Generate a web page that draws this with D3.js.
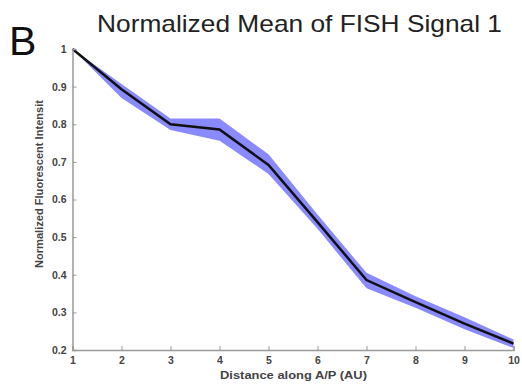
<!DOCTYPE html>
<html>
<head>
<meta charset="utf-8">
<script src="https://cdn.jsdelivr.net/npm/d3@7"></script>
<style>
body { margin: 0; background: #fff; }
svg { font-family: "Liberation Sans", Arial, sans-serif; }
.tick text { font-weight: bold; fill: #444; font-size: 10.5px; }
</style>
</head>
<body>
<svg id="chart" width="522" height="389"></svg>
<script>
// values
var positions = [1, 2, 3, 4, 5, 6, 7, 8, 9, 10];
var meanVals  = [1.0, 0.893, 0.800, 0.786, 0.692, 0.540, 0.386, 0.327, 0.270, 0.217];
var upperVals = [1.0, 0.907, 0.815, 0.815, 0.720, 0.560, 0.405, 0.343, 0.287, 0.228];
var lowerVals = [1.0, 0.870, 0.785, 0.756, 0.668, 0.522, 0.364, 0.312, 0.255, 0.205];
var yTicks = [0.2, 0.3, 0.4, 0.5, 0.6, 0.7, 0.8, 0.9, 1];

var svg = d3.select("#chart");
var margin = {top: 49, right: 8.5, bottom: 39, left: 72.5};
var width = 522 - margin.left - margin.right,
    height = 389 - margin.top - margin.bottom;

var x = d3.scaleLinear().domain([1, 10]).range([0, width]);
var y = d3.scaleLinear().domain([0.2, 1]).range([height, 0]);

var data = positions.map(function(p, i) {
  return {pos: p, mean: meanVals[i], hi: upperVals[i], lo: lowerVals[i]};
});

var g = svg.append("g")
    .attr("transform", "translate(" + margin.left + "," + margin.top + ")");

var band = d3.area()
    .x(function(d) { return x(d.pos); })
    .y0(function(d) { return y(d.lo); })
    .y1(function(d) { return y(d.hi); });

var line = d3.line()
    .x(function(d) { return x(d.pos); })
    .y(function(d) { return y(d.mean); });

g.append("path")
    .datum(data)
    .attr("d", band)
    .style("fill", "#8a8aff");

g.append("path")
    .datum(data)
    .attr("d", line)
    .style("fill", "none")
    .style("stroke", "#111")
    .style("stroke-width", 2.5);

// matlab style axes: ticks inside
var xAxis = d3.axisBottom(x).tickValues(positions).tickSize(-4).tickPadding(7).tickFormat(d3.format("d"));
var yAxis = d3.axisLeft(y).tickValues(yTicks).tickSize(-4).tickPadding(6).tickFormat(function(d) { return d === 1 ? "1" : d3.format(".1f")(d); });

var gx = g.append("g")
    .attr("transform", "translate(0," + height + ")")
    .call(xAxis);
var gy = g.append("g").call(yAxis);

[gx, gy].forEach(function(a) {
  a.select(".domain").style("stroke", "#999").style("stroke-width", 1.5);
  a.selectAll(".tick line").style("stroke", "#999");
});

svg.append("text")
    .attr("x", 220)
    .attr("y", 379)
    .attr("textLength", 147)
    .attr("lengthAdjust", "spacingAndGlyphs")
    .style("font-size", "11.5px")
    .style("font-weight", "bold")
    .style("fill", "#444")
    .text("Distance along A/P (AU)");

svg.append("text")
    .attr("transform", "translate(43,268) rotate(-90)")
    .attr("textLength", 168)
    .attr("lengthAdjust", "spacingAndGlyphs")
    .style("font-size", "10.5px")
    .style("font-weight", "bold")
    .style("fill", "#444")
    .text("Normalized Fluorescent Intensit");

svg.append("text")
    .attr("x", 97)
    .attr("y", 32)
    .attr("textLength", 405)
    .attr("lengthAdjust", "spacingAndGlyphs")
    .style("font-size", "24px")
    .style("fill", "#222")
    .text("Normalized Mean of FISH Signal 1");

svg.append("text")
    .attr("x", 9)
    .attr("y", 55)
    .style("font-size", "41px")
    .style("fill", "#111")
    .text("B");
</script>
</body>
</html>
